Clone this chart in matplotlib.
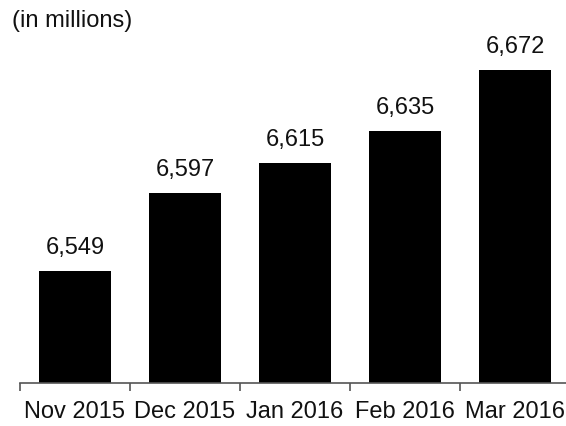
import matplotlib
matplotlib.use("Agg")
import matplotlib.pyplot as plt
import numpy as np

# ── data ────────────────────────────────────────────────────────────
months = ["Nov 2015", "Dec 2015", "Jan 2016", "Feb 2016", "Mar 2016"]
values = [6549, 6597, 6615, 6635, 6672]

plt.rcParams["font.family"] = ["Liberation Sans", "DejaVu Sans"]
FS = 17

fig = plt.figure(figsize=(5.66, 4.26), dpi=100)
# axis runs past the right edge of the canvas on purpose
ax = fig.add_axes([20 / 566, 43 / 426, 550 / 566, 343 / 426])

x = np.arange(len(months))
bars = ax.bar(x, values, width=0.66, color="black", zorder=2)

for xi, v in zip(x, values):
    ax.annotate(f"{v:,}", xy=(xi, v), xytext=(0, 8.5), textcoords="offset points",
                ha="center", va="bottom", fontsize=FS, color="#111111")

ax.set_xlim(-0.5, len(months) - 0.5)
ax.set_ylim(6480.5, 6480.5 + 343 / 1.634)

# tick marks at category boundaries, labels centred under bars
ax.set_xticks(np.arange(len(months) + 1) - 0.5)
ax.set_xticklabels([])
ax.tick_params(axis="x", which="major", length=6, width=1.2, color="#555555", direction="out")
ax.set_xticks(x, minor=True)
ax.set_xticklabels(months, minor=True, fontsize=FS, color="#111111")
ax.tick_params(axis="x", which="minor", length=0, pad=13)

ax.set_yticks([])
for side in ["top", "right", "left"]:
    ax.spines[side].set_visible(False)
ax.spines["bottom"].set_color("#555555")
ax.spines["bottom"].set_linewidth(1.2)

fig.text(12 / 566, 1 - 10 / 426, "(in millions)", ha="left", va="top",
         fontsize=FS, color="#111111")

fig.savefig("out.png", dpi=100)
